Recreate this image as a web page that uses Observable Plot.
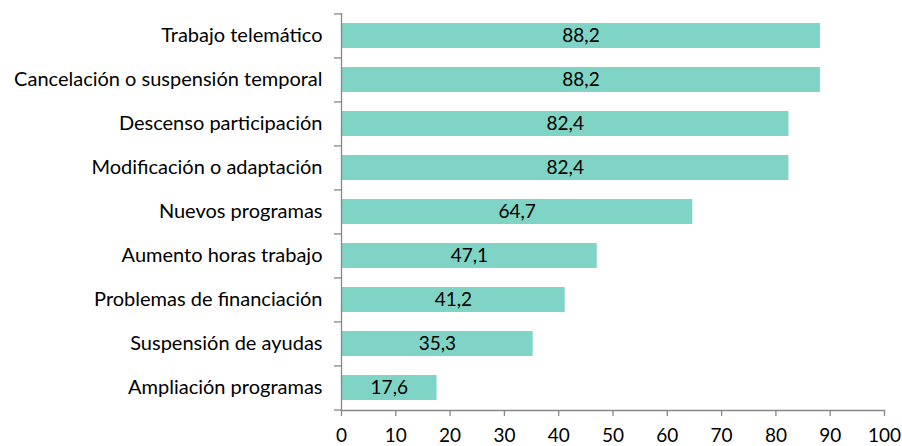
<!DOCTYPE html>
<html>
<head>
<meta charset="utf-8">
<script src="https://cdn.jsdelivr.net/npm/d3@7"></script>
<script src="https://cdn.jsdelivr.net/npm/@observablehq/plot@0.6"></script>
<style>
body { margin: 0; background: #fff; }
#chart svg { font-family: Lato, "Open Sans", sans-serif; }
</style>
</head>
<body>
<div id="chart"></div>
<script>
const categories = [
  "Trabajo telemático",
  "Cancelación o suspensión temporal",
  "Descenso participación",
  "Modificación o adaptación",
  "Nuevos programas",
  "Aumento horas trabajo",
  "Problemas de financiación",
  "Suspensión de ayudas",
  "Ampliación programas"
];
const values = [88.2, 88.2, 82.4, 82.4, 64.7, 47.1, 41.2, 35.3, 17.6];
const xTicks = [0, 10, 20, 30, 40, 50, 60, 70, 80, 90, 100];

const data = categories.map((c, i) => ({category: c, value: values[i]}));
const fmt = v => v.toFixed(1).replace(".", ",");

const W = 902, H = 446, mt = 13, mb = 36, ml = 341, mr = 18;
const step = (H - mt - mb) / categories.length;
const gray = "#878787";
const fill = "#80D4C6";
const fs = 19;

const chart = Plot.plot({
  width: W,
  height: H,
  marginLeft: ml,
  marginRight: mr,
  marginTop: mt,
  marginBottom: mb,
  style: {fontSize: fs + "px", color: "#000", background: "#fff"},
  x: {domain: [0, 100], ticks: xTicks},
  y: {domain: categories, paddingInner: 0.43, paddingOuter: 0.215, align: 0.5},
  marks: [
    Plot.barX(data, {x: "value", y: "category", fill: fill}),
    Plot.text(data, {x: d => d.value / 2, y: "category", text: d => fmt(d.value), fill: "#000", fontSize: fs}),
    Plot.ruleX([0], {stroke: gray, strokeWidth: 1.3}),
    Plot.frame({anchor: "bottom", stroke: gray, strokeWidth: 1.3}),
    Plot.ruleY(categories, {y: d => d, x1: -1.3, x2: 0, dy: -step / 2, stroke: gray, strokeWidth: 1.3}),
    Plot.ruleY(categories.slice(-1), {y: d => d, x1: -1.3, x2: 0, dy: step / 2, stroke: gray, strokeWidth: 1.3}),
    Plot.axisX({ticks: xTicks, tickSize: 6, tickPadding: 12, stroke: gray, strokeWidth: 1.3, label: null, fontSize: fs, fill: "#000", tickFormat: d => String(d)}),
    Plot.axisY({tickSize: 0, tickPadding: 19, label: null, fontSize: 20, fill: "#000"})
  ]
});
document.getElementById("chart").append(chart);
</script>
</body>
</html>
